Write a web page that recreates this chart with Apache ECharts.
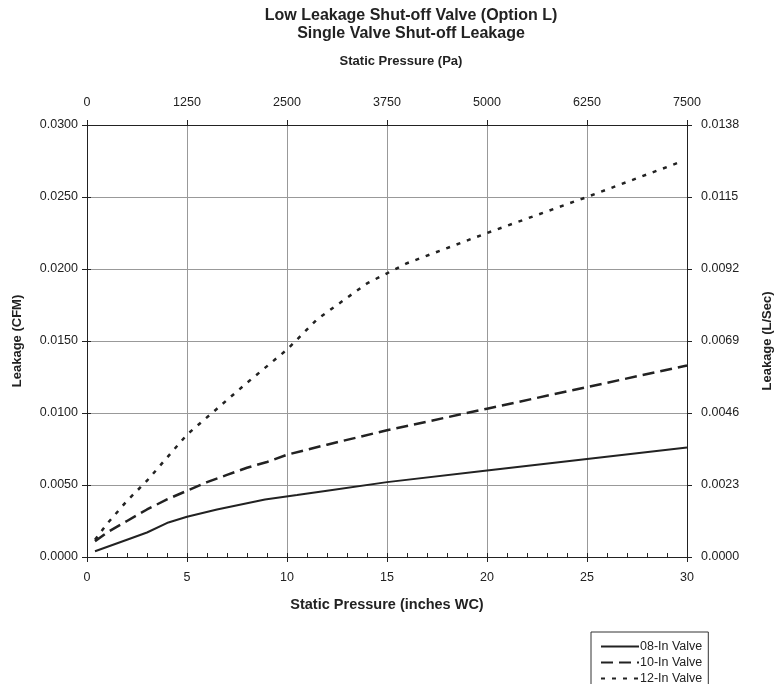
<!DOCTYPE html>
<html>
<head>
<meta charset="utf-8">
<script src="https://cdn.jsdelivr.net/npm/echarts@6/dist/echarts.min.js"></script>
<style>html,body{margin:0;padding:0;background:#fff}#c{width:776px;height:684px}</style>
</head>
<body>
<div id="c"></div>
<script>
const titleLines = ['Low Leakage Shut-off Valve (Option L)', 'Single Valve Shut-off Leakage'];
const seriesNames = ['08-In Valve', '10-In Valve', '12-In Valve'];
const xTicksInWC = [0, 5, 10, 15, 20, 25, 30];
const xTicksPa = [0, 1250, 2500, 3750, 5000, 6250, 7500];
const yTicksCFM = [0, 0.005, 0.010, 0.015, 0.020, 0.025, 0.030];
const yTicksLSec = [0, 0.0023, 0.0046, 0.0069, 0.0092, 0.0115, 0.0138];

const x08 = [0.4, 2, 3, 4.07, 5, 6.5, 8.9, 10.5, 12, 15, 20, 25, 30];
const y08 = [0.0004, 0.0012, 0.0017, 0.0024, 0.0028, 0.0033, 0.0040, 0.0043, 0.0046, 0.0052, 0.0060, 0.0068, 0.0076];
const x10 = [0.4, 1, 2, 3, 4, 5, 6, 7, 8, 9, 10, 12, 15, 20, 25, 30];
const y10 = [0.0011, 0.0017, 0.0025, 0.0033, 0.0040, 0.0046, 0.0052, 0.0057, 0.0062, 0.0066, 0.0071, 0.0078, 0.0088, 0.0103, 0.0118, 0.0133];
const x12 = [0.4, 1, 2, 3, 4, 5, 6.5, 8, 10, 11.5, 12.5, 14, 15, 16, 20, 25, 29.6];
const y12 = [0.0012, 0.0023, 0.0039, 0.0053, 0.0069, 0.0085, 0.0103, 0.0121, 0.0144, 0.0165, 0.0175, 0.0190, 0.0197, 0.0204, 0.0225, 0.0250, 0.0274];

const pair = (xs, ys) => xs.map((x, i) => [x, ys[i]]);
const FONT = '"Liberation Sans", Arial, sans-serif';
const AX = '#222';
const labelStyle = { fontFamily: FONT, fontSize: 12.5, color: '#222' };
const nameStyle = { fontFamily: FONT, fontSize: 13, fontWeight: 'bold', color: '#222' };

const chart = echarts.init(document.getElementById('c'), null, { renderer: 'canvas' });

const xMin = xTicksInWC[0], xMax = xTicksInWC[xTicksInWC.length - 1];
const paMin = xTicksPa[0], paMax = xTicksPa[xTicksPa.length - 1];
const yMin = yTicksCFM[0], yMax = yTicksCFM[yTicksCFM.length - 1];
const lMin = yTicksLSec[0], lMax = yTicksLSec[yTicksLSec.length - 1];

chart.setOption({
  animation: false,
  backgroundColor: '#fff',
  title: [
    { text: titleLines.join('\n'), left: 406, top: 2, textAlign: 'center',
      textStyle: { fontFamily: FONT, fontSize: 16, fontWeight: 'bold', color: '#222', lineHeight: 18 } }
  ],
  grid: { left: 87, right: 89, top: 125, bottom: 127, containLabel: false, outerBoundsMode: 'none' },
  legend: {
    orient: 'vertical', left: 591, top: 632, width: 123, height: 120,
    data: seriesNames,
    itemWidth: 38, itemHeight: 13, itemGap: 3,
    padding: [8, 6, 40, 9],
    borderColor: '#333', borderWidth: 1,
    itemStyle: { opacity: 0 },
    textStyle: { fontFamily: FONT, fontSize: 12.5, lineHeight: 13, color: '#222', padding: [0, 0, 0, -4] }
  },
  xAxis: [
    { type: 'value', position: 'bottom', min: xMin, max: xMax, interval: 5,
      name: 'Static Pressure (inches WC)', nameLocation: 'middle', nameGap: 40,
      nameTextStyle: Object.assign({}, nameStyle, { fontSize: 14.5 }),
      axisLine: { show: true, onZero: false, lineStyle: { color: AX, width: 1 } },
      axisTick: { show: true, inside: false, length: 4, lineStyle: { color: AX } },
      axisLabel: Object.assign({ margin: 14 }, labelStyle),
      splitLine: { show: true, lineStyle: { color: '#999', width: 1 } } },
    { type: 'value', position: 'bottom', min: xMin, max: xMax, interval: 1,
      axisLine: { show: false }, axisLabel: { show: false }, splitLine: { show: false },
      axisTick: { show: true, inside: true, length: 4, lineStyle: { color: AX } } },
    { type: 'value', position: 'top', min: paMin, max: paMax, interval: 1250,
      name: 'Static Pressure (Pa)', nameLocation: 'middle', nameGap: 57,
      nameTextStyle: Object.assign({ padding: [0, 0, 0, 28] }, nameStyle),
      axisLine: { show: true, onZero: false, lineStyle: { color: AX, width: 1 } },
      axisTick: { show: true, inside: false, length: 5, lineStyle: { color: AX } },
      axisLabel: Object.assign({ margin: 16, formatter: v => String(Math.round(v)) }, labelStyle),
      splitLine: { show: false } },
    { type: 'value', position: 'top', min: paMin, max: paMax, interval: 1250,
      axisLine: { show: false }, axisLabel: { show: false }, splitLine: { show: false },
      axisTick: { show: true, inside: true, length: 5, lineStyle: { color: AX } } }
  ],
  yAxis: [
    { type: 'value', position: 'left', min: yMin, max: yMax, interval: 0.005,
      name: 'Leakage (CFM)', nameLocation: 'middle', nameGap: 63, nameRotate: 90, nameTextStyle: nameStyle,
      axisLine: { show: true, onZero: false, lineStyle: { color: AX, width: 1 } },
      axisTick: { show: true, inside: false, length: 5, lineStyle: { color: AX } },
      axisLabel: Object.assign({ margin: 9, formatter: v => v.toFixed(4) }, labelStyle),
      splitLine: { show: true, lineStyle: { color: '#999', width: 1 } } },
    { type: 'value', position: 'left', min: yMin, max: yMax, interval: 0.005,
      axisLine: { show: false }, axisLabel: { show: false }, splitLine: { show: false },
      axisTick: { show: true, inside: true, length: 4, lineStyle: { color: AX } } },
    { type: 'value', position: 'right', min: lMin, max: lMax, interval: 0.0023,
      name: 'Leakage (L/Sec)', nameLocation: 'middle', nameGap: 74, nameRotate: 90, nameTextStyle: nameStyle,
      axisLine: { show: true, onZero: false, lineStyle: { color: AX, width: 1 } },
      axisTick: { show: true, inside: false, length: 5, lineStyle: { color: AX } },
      axisLabel: Object.assign({ margin: 14, formatter: v => v.toFixed(4) }, labelStyle),
      splitLine: { show: false } },
    { type: 'value', position: 'right', min: lMin, max: lMax, interval: 0.0023,
      axisLine: { show: false }, axisLabel: { show: false }, splitLine: { show: false },
      axisTick: { show: true, inside: true, length: 4, lineStyle: { color: AX } } }
  ],
  series: [
    { name: seriesNames[0], type: 'line', xAxisIndex: 0, yAxisIndex: 0, data: pair(x08, y08),
      showSymbol: false, symbol: 'none', smooth: false,
      lineStyle: { color: '#222', width: 2, type: 'solid' }, itemStyle: { color: '#222' } },
    { name: seriesNames[1], type: 'line', xAxisIndex: 0, yAxisIndex: 0, data: pair(x10, y10),
      showSymbol: false, symbol: 'none', smooth: false,
      lineStyle: { color: '#222', width: 2.5, type: [12, 6] }, itemStyle: { color: '#222' } },
    { name: seriesNames[2], type: 'line', xAxisIndex: 0, yAxisIndex: 0, data: pair(x12, y12),
      showSymbol: false, symbol: 'none', smooth: false,
      lineStyle: { color: '#222', width: 2.5, type: [4, 7] }, itemStyle: { color: '#222' } }
  ]
});
</script>
</body>
</html>
